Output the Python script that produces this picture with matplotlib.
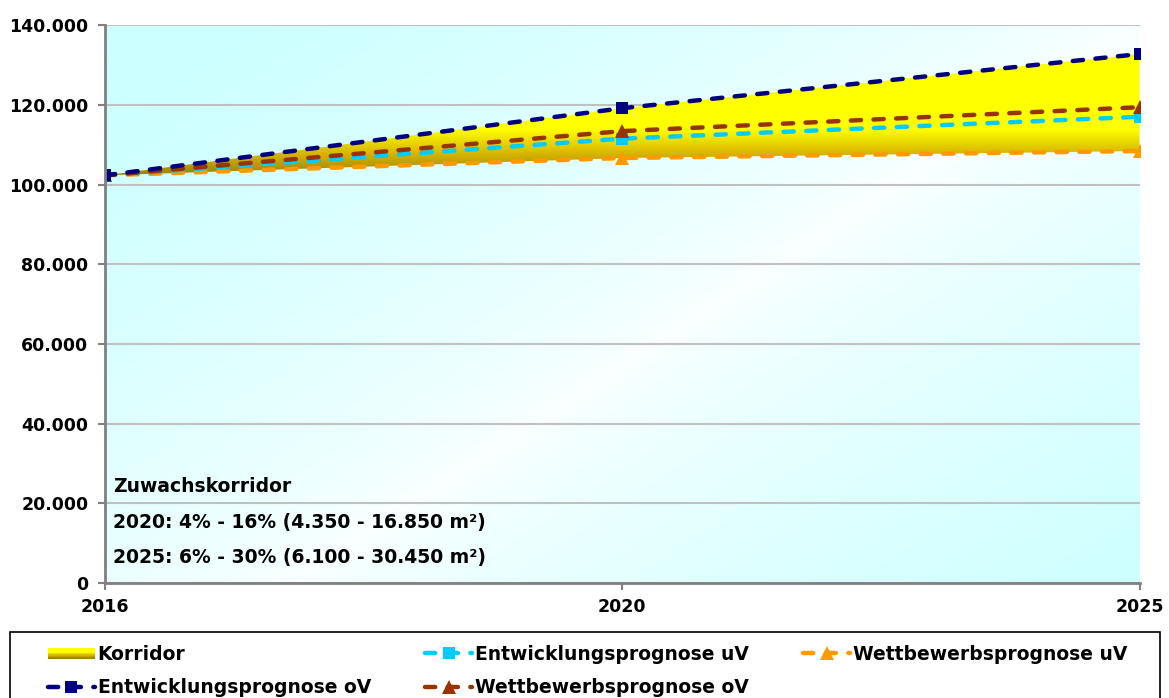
import matplotlib.pyplot as plt
import numpy as np
from matplotlib.patches import Rectangle
from matplotlib.legend_handler import HandlerBase
from matplotlib.colors import to_rgb

plt.rcParams['font.family'] = ['DejaVu Sans']

# data
years = ['2016', '2020', '2025']
entw_uv = [102300, 111500, 117000]
entw_ov = [102300, 119150, 132750]
wett_uv = [102300, 106650, 108400]
wett_ov = [102300, 113400, 119400]
yticks = [0, 20000, 40000, 60000, 80000, 100000, 120000, 140000]
notes = ['Zuwachskorridor',
         '2020: 4% - 16% (4.350 - 16.850 m²)',
         '2025: 6% - 30% (6.100 - 30.450 m²)']

cyan = np.array(to_rgb('#ccffff'))
white = np.array(to_rgb('#fbffff'))
yellow = np.array(to_rgb('#ffff00'))
gold = np.array(to_rgb('#d8b800'))
dark = np.array(to_rgb('#9a7c00'))


def corridor_color(t):
    # t = 0 bottom (dark) .. 1 top (yellow)
    t = np.clip(t, 0, 1)[..., None]
    lo = dark * (1 - t / 0.5) + gold * (t / 0.5)
    hi = gold * (1 - (t - 0.5) / 0.5) + yellow * ((t - 0.5) / 0.5)
    return np.where(t < 0.5, lo, hi)


class GradientHandler(HandlerBase):
    def create_artists(self, legend, orig, xd, yd, w, h, fontsize, trans):
        arts = []
        n = 12
        hh = h * 0.8
        y0 = yd + (h - hh) / 2
        for i in range(n):
            c = corridor_color(np.array(i / (n - 1) * 1.6))
            r = Rectangle((xd, y0 + hh * i / n), w, hh / n + 0.3, facecolor=c,
                          edgecolor='none', transform=trans)
            arts.append(r)
        return arts


fig = plt.figure(figsize=(11.69, 6.98), dpi=100)
ax = fig.add_axes([0.0898, 0.1648, 0.885, 0.7992])
x = np.arange(len(years))

# background gradient (diagonal cyan - white - cyan)
gu, gv = np.meshgrid(np.linspace(0, 1, 300), np.linspace(1, 0, 200))
t = (gu * 1.1 + (1 - gv) * 0.9) / 2
k = np.clip(np.abs(t - 0.55) * 2.1, 0, 1) ** 0.7
bg = white[None, None, :] * (1 - k[..., None]) + cyan[None, None, :] * k[..., None]
ax.imshow(bg, extent=[0, 1, 0, 1], transform=ax.transAxes, aspect='auto', zorder=0)

ax.set_xlim(0, 2)
ax.set_ylim(0, 140000)

# corridor with vertical gradient
poly = ax.fill_between(x, wett_uv, entw_ov, facecolor='none', edgecolor='none', zorder=2)
yy = np.linspace(140000, 0, 600)
grad = corridor_color((yy - 102000) / (114000 - 102000))
im = ax.imshow(grad[:, None, :], extent=[0, 2, 0, 140000], aspect='auto', zorder=2)
im.set_clip_path(poly.get_paths()[0], transform=ax.transData)

ax.grid(axis='y', color='#c0c0c0', linewidth=1.5, zorder=1)
ax.set_axisbelow(True)

lw = 3.2
ds = (2.3, 2.8)
kw = dict(lw=lw, dashes=ds, dash_capstyle='round', markeredgewidth=0)
l_eo, = ax.plot(x, entw_ov, color='#000080', marker='s', ms=9, zorder=6, **kw)
l_eu, = ax.plot(x, entw_uv, color='#00ccff', marker='s', ms=9, zorder=4, **kw)
l_wo, = ax.plot(x, wett_ov, color='#993300', marker='^', ms=10, zorder=5, **kw)
l_wu, = ax.plot(x, wett_uv, color='#ff9900', marker='^', ms=10, zorder=3, **kw)

ax.set_xticks(x)
ax.set_xticklabels(years)
ax.set_yticks(yticks)
ax.set_yticklabels([f'{v:,}'.replace(',', '.') for v in yticks])
for lab in ax.get_xticklabels() + ax.get_yticklabels():
    lab.set_fontweight('bold')
    lab.set_fontsize(12.5)
ax.tick_params(axis='both', direction='out', length=5, width=1.5, color='#808080')
ax.tick_params(axis='y', pad=7)
ax.tick_params(axis='x', pad=6)

for s in ['top', 'right']:
    ax.spines[s].set_visible(False)
for s in ['left', 'bottom']:
    ax.spines[s].set_color('#808080')
    ax.spines[s].set_linewidth(2)
    ax.spines[s].set_zorder(7)

for txt, yp in zip(notes, [487, 523, 558]):
    ax.text(0.0075, 1 - (yp - 25) / 558, txt, transform=ax.transAxes, fontsize=13.5,
            fontweight='bold', ha='left', va='center', color='black', zorder=8)

# legend frame
fig.patches.append(Rectangle((10 / 1169, -0.05), 1150 / 1169, 1 - 632 / 698 + 0.05,
                             transform=fig.transFigure, facecolor='white',
                             edgecolor='black', linewidth=1.2))

korr = Rectangle((0, 0), 1, 1)
handles = [korr, l_eu, l_wu, l_eo, l_wo]
labels = ['Korridor', 'Entwicklungsprognose uV', 'Wettbewerbsprognose uV',
          'Entwicklungsprognose oV', 'Wettbewerbsprognose oV']
order = [0, 3, 1, 4, 2]
leg = fig.legend([handles[i] for i in order], [labels[i] for i in order],
                 loc='upper left', bbox_to_anchor=(48 / 1169, 1 - 645 / 698),
                 ncol=3, fontsize=13.5, frameon=False,
                 handlelength=2.5, handletextpad=0.15, columnspacing=2.9,
                 borderaxespad=0, borderpad=0, labelspacing=0.75,
                 handler_map={Rectangle: GradientHandler()})
for tx in leg.get_texts():
    tx.set_fontweight('bold')

fig.savefig('out.png', dpi=100)
